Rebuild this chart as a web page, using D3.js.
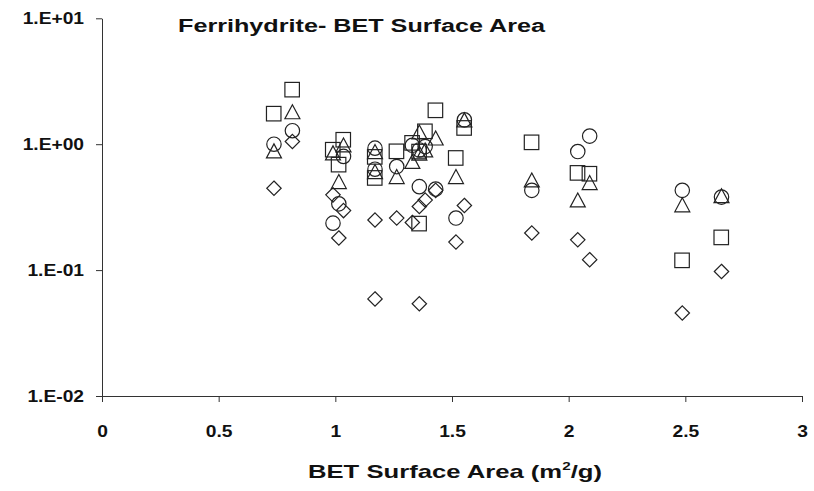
<!DOCTYPE html>
<html><head><meta charset="utf-8">
<script src="https://cdn.jsdelivr.net/npm/d3@7"></script>
<style>body{margin:0;background:#fff}</style>
</head><body><svg id="c" width="814" height="491" xmlns="http://www.w3.org/2000/svg"></svg>
<script>
// BET surface area (m2/g) for each sample
const betArea   = [0.737, 0.816, 0.99, 1.015, 1.035, 1.17, 1.17, 1.263, 1.33, 1.36, 1.36, 1.385, 1.43, 1.517, 1.553, 1.842, 2.039, 2.09, 2.487, 2.655];
// four measured quantities (log scale)
const squareVals   = [1.74, 2.70, 0.90, 0.685, 1.08, 0.789, 0.537, 0.874, 1.02, 0.87, 0.233, 1.26, 1.85, 0.774, 1.34, 1.03, 0.589, 0.58, 0.119, 0.181];
const triangleVals = [0.885, 1.81, 0.853, 0.505, 0.987, 0.874, 0.606, 0.553, 0.73, 1.25, 0.85, 0.90, 1.12, 0.553, 1.56, 0.52, 0.361, 0.496, 0.33, 0.39];
const circleVals   = [1.0, 1.28, 0.236, 0.336, 0.80, 0.93, 0.633, 0.664, 0.98, 0.46, 0.90, 0.957, 0.44, 0.259, 1.56, 0.43, 0.874, 1.16, 0.43, 0.38];
const diamondVals  = [0.447, 1.05, 0.396, 0.18, 0.297, 0.25, 0.059, 0.259, 0.239, 0.32, 0.054, 0.36, 0.43, 0.167, 0.326, 0.197, 0.174, 0.121, 0.0456, 0.0975];

const xTickVals   = [0, 0.5, 1, 1.5, 2, 2.5, 3];
const xTickLabels = ["0", "0.5", "1", "1.5", "2", "2.5", "3"];
const yTickVals   = [0.01, 0.1, 1, 10];
const yTickLabels = ["1.E-02", "1.E-01", "1.E+00", "1.E+01"];

const titleText = "Ferrihydrite- BET Surface Area";

const svg = d3.select("#c");
const FONT = "'Liberation Sans', Arial, sans-serif";
const INK = "#222";

const x = d3.scaleLinear().domain([0, 3]).range([102, 802]);
const y = d3.scaleLog().domain([0.01, 10]).range([396, 18.3]);

// axes
const yAxis = d3.axisLeft(y).tickValues(yTickVals)
  .tickFormat((d, i) => yTickLabels[i]).tickSize(6).tickSizeOuter(0).tickPadding(12);
const xAxis = d3.axisBottom(x).tickValues(xTickVals)
  .tickFormat((d, i) => xTickLabels[i]).tickSize(6).tickSizeOuter(0).tickPadding(24);

const gy = svg.append("g").attr("transform", "translate(102,0)").call(yAxis);
const gx = svg.append("g").attr("transform", "translate(0,396)").call(xAxis);

[gx, gy].forEach(g => {
  g.select(".domain").attr("stroke", "#333").attr("stroke-width", 1);
  g.selectAll(".tick line").attr("stroke", "#333").attr("stroke-width", 1);
  g.selectAll(".tick text")
    .attr("fill", "#111")
    .style("font-family", FONT).style("font-weight", "bold").style("font-size", "16px");
});
function stretch(sel, k) {
  sel.each(function () {
    const w = this.getComputedTextLength();
    d3.select(this).attr("textLength", w * k).attr("lengthAdjust", "spacingAndGlyphs");
  });
}
stretch(gy.selectAll(".tick text"), 1.2);
stretch(gx.selectAll(".tick text"), 1.2);

// title
const t = svg.append("text")
  .attr("x", 178).attr("y", 32)
  .attr("fill", "#111")
  .style("font-family", FONT).style("font-weight", "bold").style("font-size", "18px")
  .text(titleText);
t.attr("textLength", 367).attr("lengthAdjust", "spacingAndGlyphs");

// x axis title
const xl = svg.append("text")
  .attr("x", 308).attr("y", 478)
  .attr("fill", "#111")
  .style("font-family", FONT).style("font-weight", "bold").style("font-size", "18.5px");
xl.append("tspan").text("BET Surface Area (m");
xl.append("tspan").attr("dy", -8).style("font-size", "11px").text("2");
xl.append("tspan").attr("dy", 8).text("/g)");
xl.attr("textLength", 294).attr("lengthAdjust", "spacingAndGlyphs");

// markers
const S = 15;
const rows = betArea.map((b, i) => ({b, sq: squareVals[i], tr: triangleVals[i], ci: circleVals[i], di: diamondVals[i]}));
const g = svg.append("g").attr("fill", "none").attr("stroke", INK).attr("stroke-width", 1.2);

g.selectAll("rect.sq").data(rows).join("rect").attr("class", "sq")
  .attr("x", d => x(d.b) - S / 2).attr("y", d => y(d.sq) - S / 2)
  .attr("width", S - 0.5).attr("height", S - 0.5);

g.selectAll("path.tr").data(rows).join("path").attr("class", "tr")
  .attr("d", d => {
    const cx = x(d.b), cy = y(d.tr), h = S - 1, w = S;
    return `M${cx},${cy - h / 2}L${cx + w / 2},${cy + h / 2}L${cx - w / 2},${cy + h / 2}Z`;
  });

g.selectAll("circle.ci").data(rows).join("circle").attr("class", "ci")
  .attr("cx", d => x(d.b)).attr("cy", d => y(d.ci)).attr("r", S / 2 - 0.3);

g.selectAll("path.di").data(rows).join("path").attr("class", "di")
  .attr("d", d => {
    const cx = x(d.b), cy = y(d.di), r = S / 2 - 0.3;
    return `M${cx},${cy - r}L${cx + r},${cy}L${cx},${cy + r}L${cx - r},${cy}Z`;
  });
</script>
</body></html>
